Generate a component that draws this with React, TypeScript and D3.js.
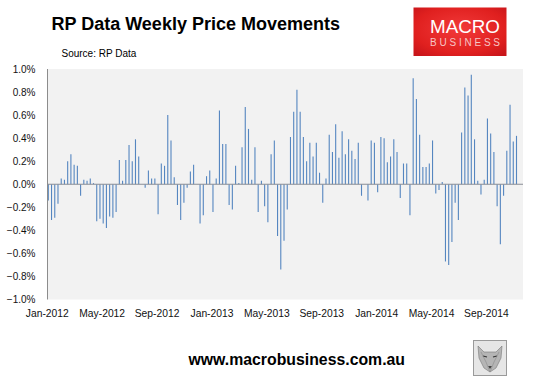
import React from "react";
import * as d3 from "d3";

const values: number[] = [
  -0.14, -0.31, -0.29, -0.17, 0.05, 0.04, 0.2, 0.26, 0.17, 0.16,
  -0.1, 0.04, 0.03, 0.05, 0.01, -0.32, -0.3, -0.34, -0.38, -0.28,
  -0.29, -0.24, 0.21, 0.03, 0.21, 0.34, 0.2, 0.39, 0.24, 0,
  -0.03, 0.12, 0.05, 0.05, -0.26, 0.18, 0.16, 0.6, 0.38, 0.06,
  -0.18, -0.31, -0.16, -0.03, 0.11, 0.17, 0, -0.34, -0.27, 0.07,
  0.12, -0.24, 0.05, 0.64, 0.35, 0.35, -0.18, -0.22, 0.16, 0.01,
  0.32, 0.67, 0.48, 0.04, 0.32, -0.24, 0.03, -0.19, -0.33, 0.26,
  0.38, -0.45, -0.74, -0.49, -0.22, 0.41, 0.63, 0.82, 0.63, 0.41,
  0.2, 0.36, 0.24, 0.36, 0.1, -0.16, 0.05, 0.43, 0.28, 0.52,
  0.23, 0.46, 0.26, 0.39, 0.29, 0.22, 0.36, -0.1, 0, -0.14,
  0.38, 0.36, -0.07, 0.41, 0.4, 0.19, 0.24, 0.39, 0.28, -0.12,
  0.18, 0.18, -0.27, 0.92, 0.74, 0.43, 0.15, 0.15, 0.18, 0.38,
  -0.08, -0.05, 0.02, -0.67, -0.7, -0.5, -0.16, -0.31, 0.45, 0.84,
  0.77, 0.95, 0.39, 0.03, -0.09, 0.04, 0.57, 0.44, 0.28, -0.19,
  -0.52, -0.1, 0.29, 0.69, 0.37, 0.42,
];

const xTickLabels: string[] = [
  "Jan-2012", "May-2012", "Sep-2012", "Jan-2013", "May-2013",
  "Sep-2013", "Jan-2014", "May-2014", "Sep-2014",
];
const xTickStep = 17;
const yTicks: number[] = [-1.0, -0.8, -0.6, -0.4, -0.2, 0, 0.2, 0.4, 0.6, 0.8, 1.0];

const W = 537;
const H = 377;
const plot = { left: 47.5, right: 523, top: 69, bottom: 299.5 };

export default function App() {
  const x = d3.scaleLinear().domain([0, values.length - 1]).range([48.3, 516.5]);
  const y = d3.scaleLinear().domain([-1, 1]).range([plot.bottom, plot.top]);
  const fmt = (v: number) => d3.format(".1f")(v) + "%";
  const font = "'Liberation Sans', Arial, sans-serif";

  return (
    <div style={{ position: "fixed", left: 0, top: 0 }}>
      <svg width={W} height={H} style={{ display: "block", background: "#fff" }}>
        <defs>
          <radialGradient id="logoG" cx="50%" cy="45%" r="70%">
            <stop offset="0%" stopColor="#f23a3a" />
            <stop offset="70%" stopColor="#e0201f" />
            <stop offset="100%" stopColor="#c8151a" />
          </radialGradient>
        </defs>
        <rect width={W} height={H} fill="#fff" />

        {/* Title */}
        <text x={51.5} y={29.5} fontFamily={font} fontWeight="bold" fontSize={18} fill="#000">
          RP Data Weekly Price Movements
        </text>
        <text x={61.5} y={57} fontFamily={font} fontSize={10} fill="#000">
          Source: RP Data
        </text>

        {/* Logo */}
        <rect x={413.5} y={7.5} width={93} height={48.5} fill="url(#logoG)" />
        <text x={430} y={32.5} fontFamily={font} fontSize={18.5} fill="#fff" textLength={70} lengthAdjust="spacingAndGlyphs">
          MACRO
        </text>
        <text x={430} y={46} fontFamily={font} fontSize={10} fill="#f6c4c4" textLength={70} lengthAdjust="spacing">
          BUSINESS
        </text>

        {/* Plot background */}
        <rect x={plot.left} y={plot.top} width={plot.right - plot.left} height={plot.bottom - plot.top} fill="#f2f2f2" />

        {/* Bars */}
        {values.map((v, i) => (
          <line
            key={i}
            x1={x(i)}
            x2={x(i)}
            y1={y(0)}
            y2={y(v)}
            stroke="#5586c0"
            strokeWidth={1.1}
          />
        ))}

        {/* zero line */}
        <line x1={plot.left} x2={plot.right} y1={y(0)} y2={y(0)} stroke="#8a8f96" strokeWidth={1} />
        {/* y axis line */}
        <line x1={plot.left} x2={plot.left} y1={plot.top} y2={plot.bottom} stroke="#8c8c8c" strokeWidth={1} />

        {/* Y labels */}
        {yTicks.map((t) => (
          <text key={t} x={35.5} y={y(t)} dy="0.35em" textAnchor="end" fontFamily={font} fontSize={10} fill="#111">
            {fmt(t)}
          </text>
        ))}

        {/* X labels */}
        {xTickLabels.map((lab, k) => (
          <text key={lab} x={x(k * xTickStep) - 1} y={317} textAnchor="middle" fontFamily={font} fontSize={10.3} fill="#111">
            {lab}
          </text>
        ))}

        {/* Footer */}
        <text x={188.5} y={365} fontFamily={font} fontWeight="bold" fontSize={16} fill="#000" textLength={216.5} lengthAdjust="spacingAndGlyphs">
          www.macrobusiness.com.au
        </text>

        {/* wolf icon */}
        <g>
          <rect x={473.5} y={340.5} width={33} height={35} fill="#e6e6e6" stroke="#9a9a9a" strokeWidth={1} />
          <path d="M478,346 L484,352 L496,352 L502,346 L501,358 L496,368 L490,372 L484,368 L479,358 Z" fill="#b5b5b5" stroke="#777" strokeWidth={0.6} />
          <path d="M483,356 L487,357 M497,356 L493,357" stroke="#333" strokeWidth={1.2} />
          <path d="M488,366 L490,369 L492,366 Z" fill="#444" />
          <path d="M481,352 L486,362 L490,372 L494,362 L499,352" fill="none" stroke="#8a8a8a" strokeWidth={0.6} />
        </g>
      </svg>
    </div>
  );
}
